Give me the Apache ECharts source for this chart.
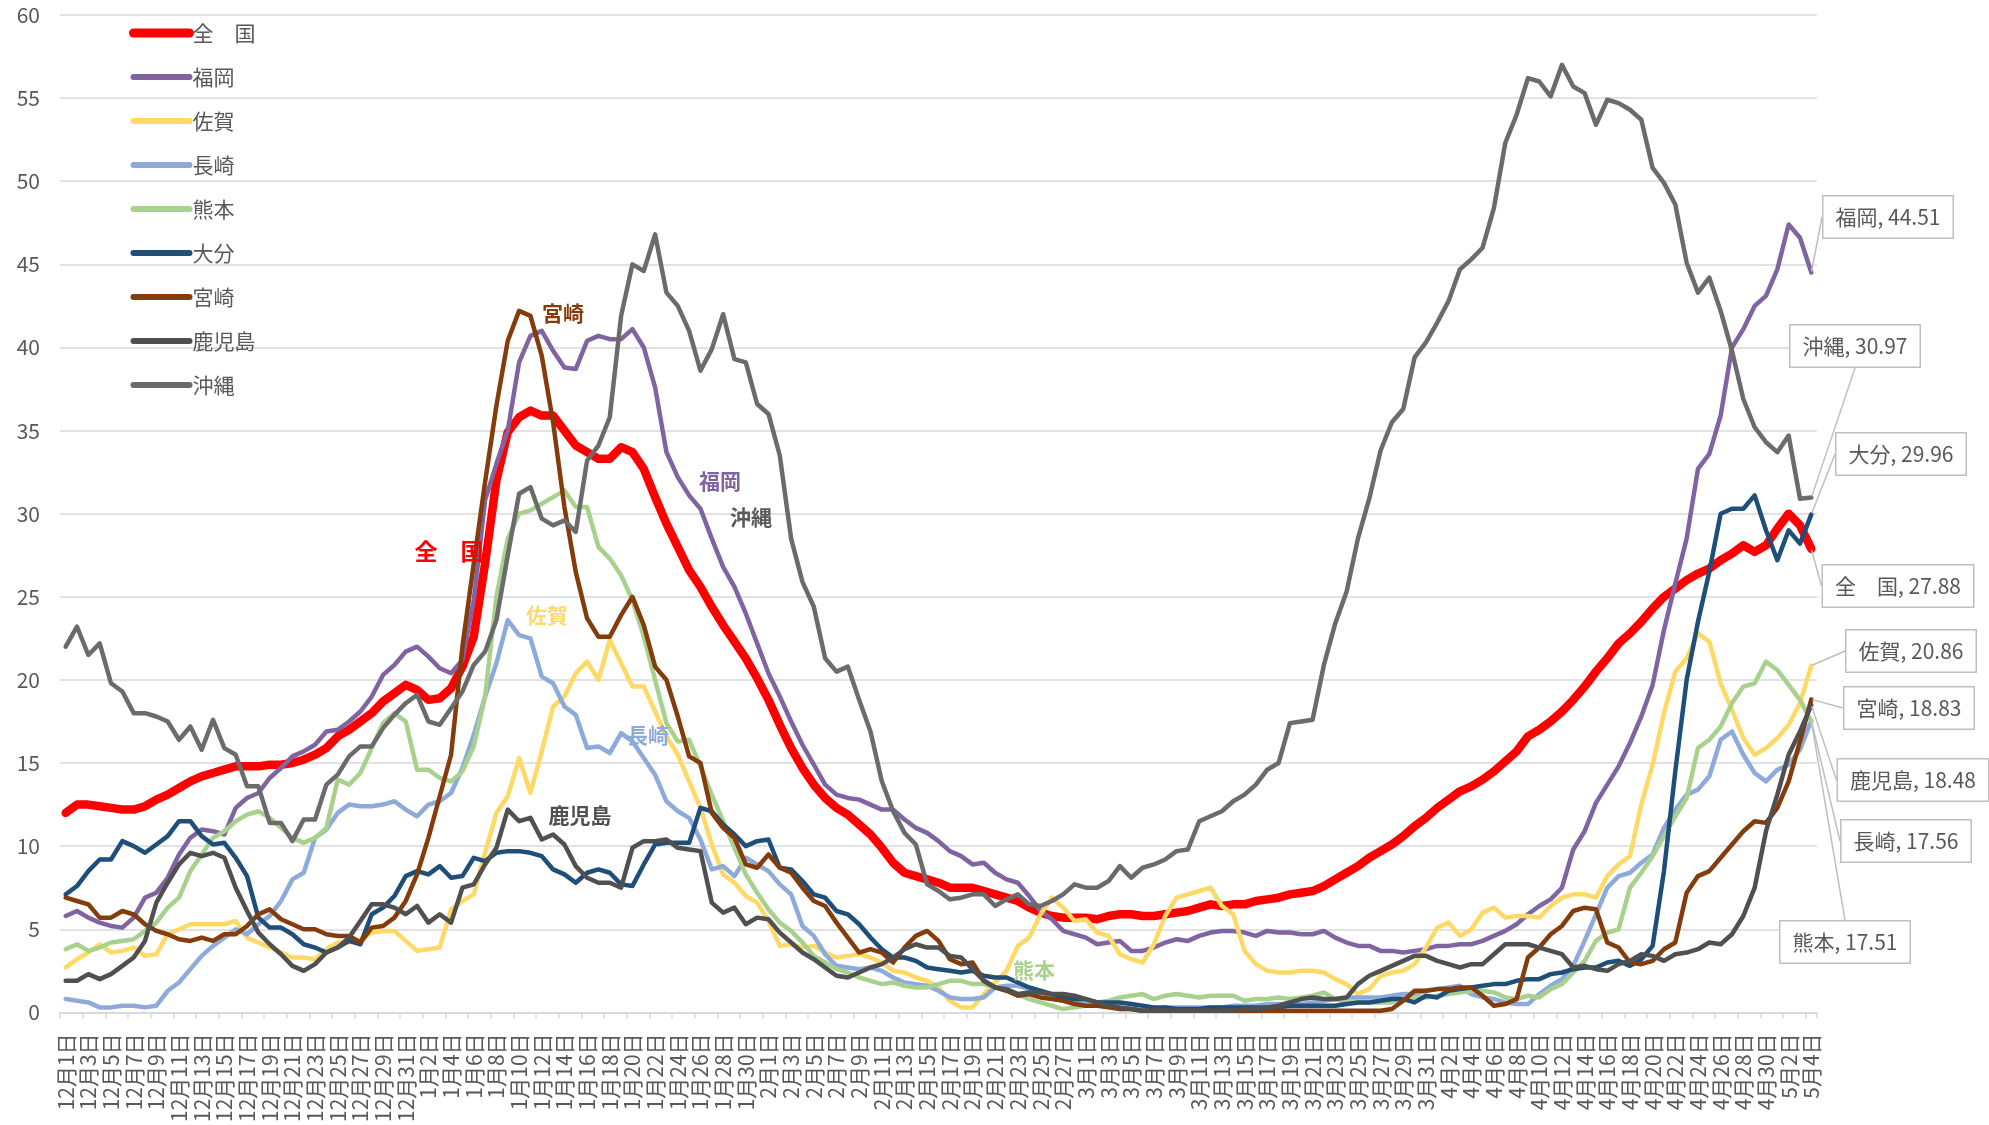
<!DOCTYPE html>
<html><head><meta charset="utf-8">
<script src="https://cdn.jsdelivr.net/npm/echarts@6/dist/echarts.min.js"></script>
<style>html,body{margin:0;padding:0;background:#fff}#c{width:1989px;height:1125px}</style>
</head><body><div id="c"></div>
<script>
// ---- categories (Dec 1 .. May 4) ----
const monthDays = [[12,31],[1,31],[2,28],[3,31],[4,30],[5,4]];
const categories = [];
monthDays.forEach(([m,n]) => { for (let d = 1; d <= n; d++) categories.push(m + '月' + d + '日'); });

const yTicks = {min: 0, max: 60, interval: 5};

// ---- series values ----
const zenkoku = [12.0,12.5,12.5,12.4,12.3,12.2,12.2,12.4,12.8,13.1,
13.5,13.9,14.2,14.4,14.6,14.8,14.8,14.8,14.9,14.9,
15.0,15.2,15.5,15.9,16.6,17.0,17.5,18.0,18.7,19.2,
19.7,19.4,18.8,18.9,19.5,20.8,22.6,27.0,32.0,34.9,
35.8,36.2,35.9,35.9,35.0,34.1,33.7,33.3,33.3,34.0,
33.7,32.7,31.0,29.4,28.0,26.6,25.6,24.4,23.3,22.3,
21.3,20.1,18.8,17.3,15.9,14.7,13.7,12.9,12.3,11.9,
11.3,10.7,9.9,9.0,8.4,8.2,8.0,7.8,7.5,7.5,
7.5,7.3,7.1,6.9,6.7,6.3,6.0,5.8,5.7,5.7,
5.7,5.6,5.8,5.9,5.9,5.8,5.8,5.9,6.0,6.1,
6.3,6.5,6.4,6.5,6.5,6.7,6.8,6.9,7.1,7.2,
7.3,7.6,8.0,8.4,8.8,9.3,9.7,10.1,10.6,11.2,
11.7,12.3,12.8,13.3,13.6,14.0,14.5,15.1,15.7,16.6,
17.0,17.5,18.1,18.8,19.6,20.5,21.3,22.2,22.8,23.5,
24.3,25.0,25.5,26.0,26.4,26.7,27.2,27.6,28.1,27.7,
28.1,29.1,30.0,29.3,27.88];

const fukuoka = [5.8,6.1,5.7,5.4,5.2,5.1,5.7,6.9,7.2,8.1,
9.5,10.5,11.0,10.9,10.7,12.3,12.9,13.2,14.1,14.7,
15.4,15.7,16.1,16.9,17.0,17.5,18.1,19.0,20.3,20.9,
21.7,22.0,21.4,20.7,20.4,21.2,24.8,30.8,33.0,35.0,
39.1,40.7,41.0,39.8,38.8,38.7,40.4,40.7,40.5,40.5,
41.1,40.0,37.6,33.7,32.2,31.1,30.3,28.5,26.8,25.6,
24.0,22.2,20.4,19.0,17.5,16.1,14.9,13.7,13.1,12.9,
12.8,12.5,12.2,12.2,11.6,11.1,10.8,10.3,9.7,9.4,
8.9,9.0,8.4,8.0,7.8,7.0,6.1,5.6,4.9,4.7,
4.5,4.1,4.2,4.3,3.7,3.7,3.9,4.2,4.4,4.3,
4.6,4.8,4.9,4.9,4.8,4.6,4.9,4.8,4.8,4.7,
4.7,4.9,4.5,4.2,4.0,4.0,3.7,3.7,3.6,3.7,
3.8,4.0,4.0,4.1,4.1,4.3,4.6,4.9,5.3,5.9,
6.4,6.8,7.5,9.8,10.9,12.6,13.7,14.8,16.2,17.8,
19.7,23.0,25.8,28.5,32.7,33.6,35.9,40.0,41.1,42.5,
43.1,44.7,47.4,46.6,44.51];

const saga = [2.7,3.2,3.6,4.1,3.6,3.7,3.9,3.4,3.5,4.7,
5.0,5.3,5.3,5.3,5.3,5.5,4.5,4.2,3.9,3.6,
3.3,3.3,3.2,3.8,4.2,4.2,4.4,4.8,4.9,4.9,
4.3,3.7,3.8,3.9,6.2,6.7,7.1,9.6,12.0,13.0,
15.3,13.2,15.7,18.4,19.0,20.4,21.1,20.0,22.4,21.0,
19.6,19.6,18.1,16.6,15.5,13.9,12.3,10.1,8.3,7.8,
7.0,6.6,5.5,4.0,4.1,3.9,4.0,3.6,3.3,3.4,
3.5,3.3,3.0,2.5,2.4,2.1,1.9,1.5,0.7,0.3,
0.3,1.1,1.8,2.5,4.0,4.5,5.9,6.9,6.3,5.5,
5.6,4.8,4.6,3.5,3.2,3.0,4.1,5.8,6.9,7.1,
7.3,7.5,6.4,5.9,3.7,2.9,2.5,2.4,2.4,2.5,
2.5,2.4,2.0,1.7,1.1,1.4,2.2,2.4,2.5,2.9,
3.9,5.1,5.4,4.6,5.0,6.0,6.3,5.7,5.8,5.8,
5.7,6.4,6.9,7.1,7.1,6.9,8.2,8.9,9.4,12.5,
14.9,18.0,20.5,21.3,22.8,22.3,19.8,18.2,16.5,15.5,
15.9,16.5,17.3,18.6,20.86];

const nagasaki = [0.8,0.7,0.6,0.3,0.3,0.4,0.4,0.3,0.4,1.3,
1.8,2.6,3.4,4.0,4.5,5.0,4.7,5.3,5.8,6.7,
8.0,8.4,10.5,11.0,12.0,12.5,12.4,12.4,12.5,12.7,
12.2,11.8,12.5,12.7,13.2,14.7,16.7,19.0,21.0,23.6,
22.7,22.5,20.2,19.8,18.4,17.9,15.9,16.0,15.6,16.8,
16.3,15.3,14.3,12.7,12.1,11.7,10.4,8.6,8.8,8.2,
9.3,8.9,8.5,7.7,7.1,5.2,4.6,3.5,2.8,2.7,
2.6,2.7,2.5,2.1,1.8,1.7,1.6,1.3,0.9,0.8,
0.8,0.9,1.5,1.6,1.6,1.4,1.2,1.0,0.9,0.7,
0.6,0.4,0.4,0.2,0.2,0.1,0.2,0.3,0.3,0.3,
0.3,0.3,0.3,0.4,0.4,0.4,0.5,0.5,0.5,0.5,
0.6,0.7,0.8,0.9,0.9,0.9,0.9,1.0,1.1,1.1,
1.3,1.4,1.5,1.6,1.1,0.9,0.8,0.6,0.5,0.5,
1.1,1.6,2.0,2.8,4.3,5.9,7.5,8.2,8.4,9.0,
9.5,11.1,12.2,13.1,13.4,14.2,16.4,16.9,15.5,14.4,
13.9,14.6,14.9,15.8,17.56];

const kumamoto = [3.8,4.1,3.7,3.9,4.2,4.3,4.4,4.9,5.4,6.3,
6.9,8.5,9.5,10.5,10.9,11.5,11.9,12.1,11.7,11.1,
10.5,10.2,10.5,11.1,14.0,13.7,14.4,15.9,17.4,18.0,
17.5,14.6,14.6,14.1,13.9,14.5,16.0,19.0,25.0,28.5,
30.0,30.2,30.6,31.0,31.4,30.4,30.4,28.0,27.3,26.3,
24.8,22.6,20.0,17.4,16.3,16.4,14.8,13.1,11.5,9.9,
8.3,7.2,6.2,5.4,4.9,4.2,3.4,3.0,2.6,2.4,
2.1,1.9,1.7,1.8,1.6,1.5,1.5,1.7,1.9,1.9,
1.7,1.7,1.5,1.3,1.1,0.8,0.6,0.4,0.2,0.3,
0.4,0.6,0.7,0.9,1.0,1.1,0.8,1.0,1.1,1.0,
0.9,1.0,1.0,1.0,0.7,0.8,0.8,0.9,0.8,0.9,
1.0,1.2,0.8,0.6,0.6,0.6,0.6,0.6,0.8,0.9,
0.9,1.0,1.1,1.2,1.3,1.3,1.2,0.9,0.8,1.0,
0.9,1.4,1.7,2.4,3.1,4.3,4.8,5.0,7.5,8.4,
9.4,10.6,11.8,12.9,15.9,16.4,17.2,18.6,19.6,19.8,
21.1,20.6,19.7,18.8,17.51];

const oita = [7.1,7.6,8.5,9.2,9.2,10.3,10.0,9.6,10.1,10.6,
11.5,11.5,10.6,10.1,10.2,9.3,8.2,5.7,5.1,5.1,
4.7,4.1,3.9,3.6,3.9,4.3,4.1,5.9,6.3,7.0,
8.2,8.5,8.3,8.8,8.1,8.2,9.3,9.1,9.6,9.7,
9.7,9.6,9.4,8.6,8.3,7.8,8.4,8.6,8.4,7.7,
7.6,8.9,10.1,10.2,10.2,10.2,12.3,12.1,11.3,10.7,
10.0,10.3,10.4,8.7,8.6,7.9,7.1,6.9,6.1,5.9,
5.3,4.5,3.8,3.3,3.3,3.1,2.7,2.6,2.5,2.4,
2.5,2.2,2.1,2.1,1.8,1.5,1.3,1.1,0.9,0.8,
0.8,0.6,0.6,0.6,0.5,0.4,0.3,0.3,0.2,0.2,
0.2,0.3,0.3,0.3,0.3,0.3,0.3,0.3,0.4,0.4,
0.4,0.4,0.4,0.5,0.6,0.6,0.7,0.8,0.8,0.6,
1.0,0.9,1.3,1.4,1.5,1.6,1.7,1.7,1.9,2.0,
2.0,2.3,2.4,2.6,2.7,2.7,3.0,3.1,2.8,3.2,
4.0,8.5,14.5,20.0,23.5,26.5,30.0,30.3,30.3,31.1,
29.0,27.2,29.0,28.2,29.96];

const miyazaki = [6.9,6.7,6.5,5.7,5.7,6.1,5.9,5.3,4.9,4.7,
4.4,4.3,4.5,4.3,4.7,4.7,5.2,5.9,6.2,5.6,
5.3,5.0,5.0,4.7,4.6,4.6,4.2,5.1,5.2,5.7,
6.7,8.3,10.5,13.0,15.5,22.0,27.0,31.9,36.5,40.4,
42.2,41.9,39.5,35.5,30.4,26.5,23.7,22.6,22.6,23.9,
25.0,23.3,20.8,20.0,17.8,15.4,15.0,12.0,11.1,10.5,
8.9,8.7,9.5,8.7,8.4,7.5,6.7,6.4,5.4,4.5,
3.6,3.8,3.6,3.0,3.9,4.6,4.9,4.3,3.2,2.9,
3.0,1.9,1.5,1.3,1.0,1.1,0.9,0.8,0.7,0.5,
0.4,0.4,0.3,0.2,0.2,0.1,0.1,0.1,0.1,0.1,
0.1,0.1,0.1,0.1,0.1,0.1,0.1,0.1,0.1,0.1,
0.1,0.1,0.1,0.1,0.1,0.1,0.1,0.2,0.7,1.3,
1.3,1.4,1.4,1.5,1.5,1.0,0.4,0.5,0.8,3.3,
3.9,4.7,5.2,6.1,6.3,6.2,4.2,3.9,3.0,2.9,
3.1,3.8,4.2,7.2,8.2,8.5,9.3,10.1,10.9,11.5,
11.4,12.3,13.9,16.3,18.83];

const kagoshima = [1.9,1.9,2.3,2.0,2.3,2.8,3.3,4.3,6.6,7.8,
8.9,9.6,9.4,9.6,9.3,7.5,6.1,4.8,4.1,3.5,
2.8,2.5,2.9,3.6,3.9,4.5,5.5,6.5,6.5,6.3,
5.9,6.4,5.4,5.9,5.4,7.5,7.7,8.9,9.9,12.2,
11.5,11.7,10.4,10.7,10.1,8.8,8.1,7.8,7.8,7.5,
9.9,10.3,10.3,10.4,9.9,9.8,9.7,6.6,6.0,6.3,
5.3,5.7,5.6,4.8,4.2,3.6,3.2,2.7,2.2,2.1,
2.4,2.7,2.9,3.3,3.8,4.1,3.9,3.9,3.4,3.3,
2.6,1.9,1.5,1.4,1.1,1.2,1.2,1.1,1.1,1.0,
0.8,0.6,0.4,0.3,0.2,0.1,0.1,0.1,0.1,0.1,
0.1,0.1,0.1,0.1,0.2,0.2,0.3,0.4,0.6,0.8,
0.9,0.8,0.8,0.9,1.7,2.2,2.5,2.8,3.1,3.4,
3.4,3.1,2.9,2.7,2.9,2.9,3.5,4.1,4.1,4.1,
3.9,3.7,3.5,2.7,2.8,2.6,2.5,2.9,3.1,3.5,
3.4,3.1,3.5,3.6,3.8,4.2,4.1,4.7,5.8,7.5,
10.9,13.1,15.5,16.9,18.48];

const okinawa = [22.0,23.2,21.5,22.2,19.8,19.3,18.0,18.0,17.8,17.5,
16.4,17.2,15.8,17.6,15.9,15.5,13.6,13.6,11.4,11.4,
10.3,11.6,11.6,13.7,14.3,15.4,16.0,16.0,17.1,17.9,
18.6,19.1,17.5,17.3,18.3,19.3,20.9,21.7,23.6,27.5,
31.2,31.6,29.7,29.3,29.6,28.9,33.2,34.1,35.8,41.9,
45.0,44.6,46.8,43.3,42.5,41.0,38.6,39.9,42.0,39.3,
39.1,36.6,36.0,33.5,28.5,25.9,24.4,21.3,20.5,20.8,
18.8,16.9,13.9,12.1,10.8,10.1,7.7,7.3,6.8,6.9,
7.1,7.1,6.4,6.8,7.1,6.5,6.4,6.7,7.1,7.7,
7.5,7.5,7.9,8.8,8.1,8.7,8.9,9.2,9.7,9.8,
11.5,11.8,12.1,12.7,13.1,13.7,14.6,15.0,17.4,17.5,
17.6,20.9,23.4,25.3,28.5,30.9,33.8,35.5,36.3,39.4,
40.3,41.5,42.8,44.7,45.3,46.0,48.4,52.3,54.0,56.2,
56.0,55.1,57.0,55.7,55.3,53.4,54.9,54.7,54.3,53.7,
50.8,49.9,48.6,45.1,43.3,44.2,42.2,39.8,36.9,35.2,
34.3,33.7,34.7,30.9,30.97];

const seriesNames = ['全　国','福岡','佐賀','長崎','熊本','大分','宮崎','鹿児島','沖縄'];
const seriesValues = [zenkoku, fukuoka, saga, nagasaki, kumamoto, oita, miyazaki, kagoshima, okinawa];

// ---- styles (kept separate from data) ----
const F = '"Noto Sans CJK JP", "Noto Sans", sans-serif';
const TXT = '#595959';
const colors = ['#ff0000','#8064a2','#ffd966','#8eaadb','#a9d18e','#1f4e79','#843c0c','#505050','#6b6b6b'];
const widths = [8.5,4.5,4.5,4.5,4.5,4.5,4.5,4.5,4.5];
const legendWidths = [9,6,6,6,6,6,6,6,6];
const endLabelPos = [[1898,586],[1888,217],[1911,651],[1906,841],[1845,942],[1901,454],[1909,708],[1913,780],[1855,346]];
const annotations = [
  {t:'宮崎', x:563, y:313, c:'#843c0c', s:21},
  {t:'全　国', x:449, y:551, c:'#ff0000', s:23},
  {t:'佐賀', x:547, y:615, c:'#ffd966', s:21},
  {t:'長崎', x:648, y:735, c:'#8eaadb', s:21},
  {t:'鹿児島', x:580, y:815, c:'#505050', s:21},
  {t:'福岡', x:720, y:481, c:'#8064a2', s:21},
  {t:'沖縄', x:751, y:517, c:'#595959', s:21},
  {t:'熊本', x:1034, y:970, c:'#a9d18e', s:21}
];

const chart = echarts.init(document.getElementById('c'), null, {renderer: 'canvas'});

const series = seriesNames.map((name, k) => {
  const vals = seriesValues[k];
  const pos = endLabelPos[k];
  return {
    name: name,
    type: 'line',
    symbol: 'none',
    showSymbol: true,
    showAllSymbol: true,
    smooth: false,
    clip: false,
    z: 2 + k,
    lineStyle: {color: colors[k], width: widths[k], cap: 'round', join: 'round'},
    itemStyle: {color: colors[k]},
    emphasis: {disabled: true},
    label: {show: false},
    data: vals.map((v, i) => i === vals.length - 1 ? {
      value: v,
      symbol: 'circle',
      symbolSize: 2,
      label: {
        show: true,
        formatter: name + ', ' + v,
        fontFamily: F, fontSize: 21, color: TXT,
        backgroundColor: '#ffffff', borderColor: '#bfbfbf', borderWidth: 1.5,
        padding: [10, 12]
      }
    } : v),
    labelLine: {show: true, lineStyle: {color: '#bfbfbf', width: 1.5}},
    labelLayout: function () {
      return {x: pos[0], y: pos[1], align: 'center', verticalAlign: 'middle', hideOverlap: false};
    }
  };
});

chart.setOption({
  animation: false,
  backgroundColor: '#ffffff',
  textStyle: {fontFamily: F},
  grid: {left: 60, right: 172, top: 15, bottom: 106, containLabel: false},
  legend: {
    orient: 'vertical', left: 124, top: 16,
    itemWidth: 56, itemHeight: 14, itemGap: 20,
    selectedMode: false,
    textStyle: {fontFamily: F, fontSize: 21, color: TXT, lineHeight: 24, padding: [0, 0, 0, -2]},
    data: seriesNames.map((n, k) => ({
      name: n,
      itemStyle: {opacity: 0},
      lineStyle: {width: legendWidths[k], color: colors[k], cap: 'round'}
    }))
  },
  xAxis: {
    type: 'category',
    data: categories,
    boundaryGap: true,
    axisLine: {show: true, lineStyle: {color: '#d9d9d9', width: 2}},
    axisTick: {show: true, length: 6, lineStyle: {color: '#d9d9d9', width: 1.5}},
    axisLabel: {interval: 1, rotate: 90, fontFamily: F, fontSize: 21, color: TXT, margin: 21, hideOverlap: false},
    splitLine: {show: false}
  },
  yAxis: {
    type: 'value',
    min: yTicks.min, max: yTicks.max, interval: yTicks.interval,
    axisLine: {show: false},
    axisTick: {show: false},
    axisLabel: {fontFamily: F, fontSize: 21, color: TXT, margin: 20},
    splitLine: {show: true, lineStyle: {color: '#d9d9d9', width: 1.5}}
  },
  graphic: annotations.map(a => ({
    type: 'text', x: a.x, y: a.y, z: 100,
    style: {text: a.t, fill: a.c, font: 'bold ' + a.s + 'px ' + F,
            textAlign: 'center', textVerticalAlign: 'middle', align: 'center', verticalAlign: 'middle'}
  })),
  series: series
});
</script>
</body></html>
